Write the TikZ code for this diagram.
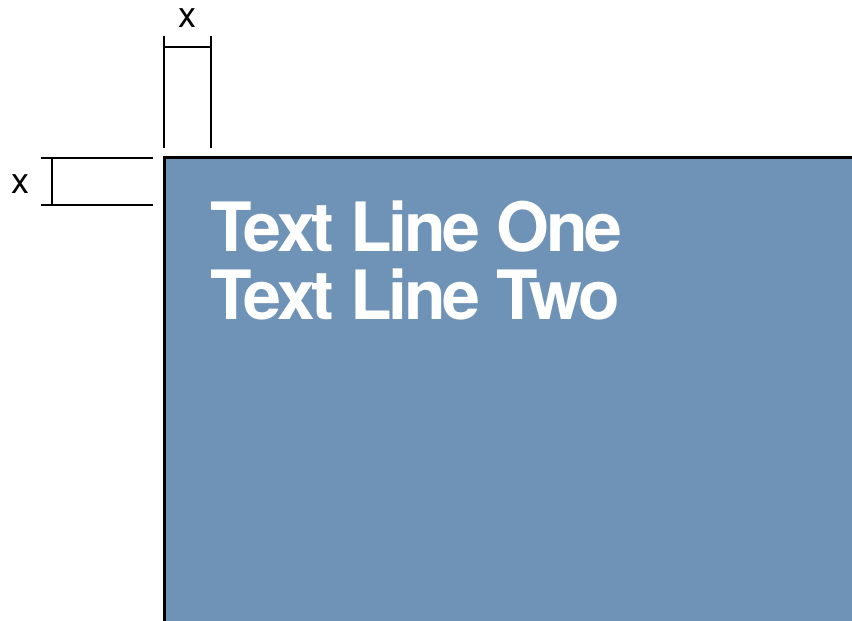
\documentclass[tikz,border=0pt]{standalone}
\usepackage{fontspec}
\setmainfont{TeX Gyre Heros}
\newfontfamily\tightbold[LetterSpace=-4.6,BoldFont={* Bold}]{TeX Gyre Heros}
\definecolor{boxblue}{RGB}{111,147,182}
\tikzset{
  dimline/.style={line width=1.5pt, black},
  dimlabel/.style={font=\fontsize{36}{36}\selectfont, inner sep=0pt},
  bigtext/.style={font=\tightbold\fontsize{68}{68}\bfseries\selectfont, text=white, inner sep=0pt, anchor=base west}
}
\begin{document}
\begin{tikzpicture}[x=1pt,y=1pt]
\useasboundingbox (0,0) rectangle (852,621);
\clip (0,0) rectangle (852,621);
% box
\fill[boxblue] (164,463) rectangle (860,-10);
\draw[line width=3pt] (164,-10) -- (164,463) -- (860,463);
% top dimension
\coordinate (t1a) at (164,585);
\coordinate (t1b) at (164,473);
\coordinate (t2a) at (211,585);
\coordinate (t2b) at (211,473);
\coordinate (th1) at (164,574);
\coordinate (th2) at (211,574);
\draw[dimline] (t1a) -- (t1b);
\draw[dimline] (t2a) -- (t2b);
\draw[dimline] (th1) -- (th2);
\node[dimlabel] (tx) at (187,603) {x};
% left dimension
\coordinate (l1a) at (41,463);
\coordinate (l1b) at (153,463);
\coordinate (l2a) at (41,416);
\coordinate (l2b) at (153,416);
\coordinate (lv1) at (52,463);
\coordinate (lv2) at (52,416);
\draw[dimline] (l1a) -- (l1b);
\draw[dimline] (l2a) -- (l2b);
\draw[dimline] (lv1) -- (lv2);
\node[dimlabel] (lx) at (20,437) {x};
% text
\node[bigtext] (line1) at (210,369) {Text Line One};
\node[bigtext] (line2) at (210,301) {Text Line Two};
\end{tikzpicture}
\end{document}
